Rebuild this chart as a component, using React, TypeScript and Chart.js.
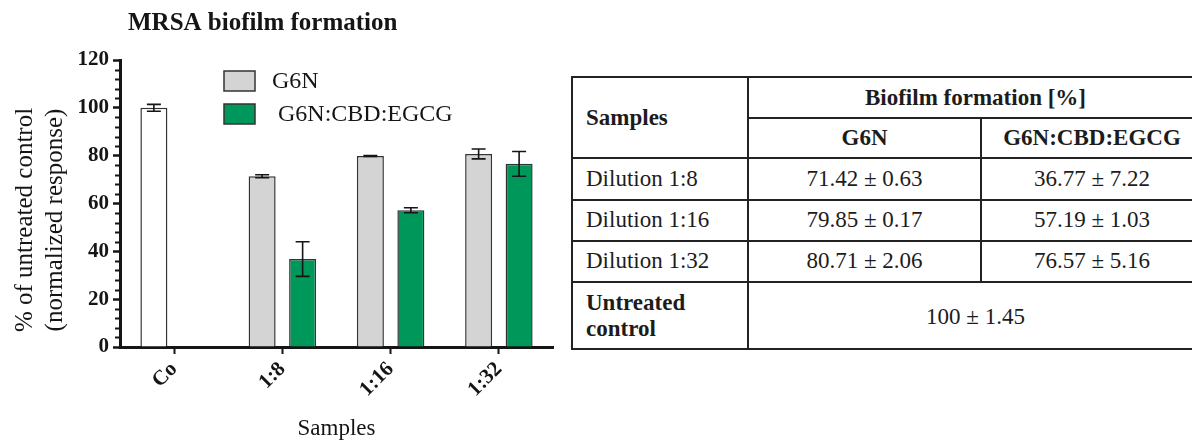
import React, { useEffect, useRef } from 'react';
import { Chart, registerables } from 'chart.js';

Chart.register(...registerables);

// ---------- data ----------
const categories = ['Co', '1:8', '1:16', '1:32'];
const seriesLabels = ['G6N', 'G6N:CBD:EGCG'];
const g6nValues = [100, 71.42, 79.85, 80.71];
const g6nErrors = [1.45, 0.63, 0.17, 2.06];
const comboValues = [null, 36.77, 57.19, 76.57];
const comboErrors = [null, 7.22, 1.03, 5.16];
const yTickValues = [0, 20, 40, 60, 80, 100, 120];
const tableRowLabels = ['Dilution 1:8', 'Dilution 1:16', 'Dilution 1:32'];
const controlValue = 100;
const controlError = 1.45;

const chartTitle = 'MRSA biofilm formation';
const yTitleLines = ['% of untreated control', '(normalized response)'];
const xTitle = 'Samples';
const tableHeader = 'Biofilm formation [%]';

// ---------- styles ----------
const SERIF = '"Liberation Serif", "Times New Roman", serif';
const GRAY = '#d4d4d4';
const GREEN = '#00985a';
const EDGE = '#333333';
const INK = '#151515';

const fmt = (v: number, e: number) => `${v.toFixed(2)} ± ${e.toFixed(2)}`;
const fmtShort = (v: number, e: number) => `${v} ± ${e.toFixed(2)}`;

const errorBarPlugin = {
  id: 'errorBars',
  afterDatasetsDraw(chart: any) {
    const ctx = chart.ctx;
    const y = chart.scales.y;
    chart.data.datasets.forEach((ds: any, di: number) => {
      const meta = chart.getDatasetMeta(di);
      meta.data.forEach((bar: any, i: number) => {
        const v = ds.data[i];
        const e = ds.errors ? ds.errors[i] : null;
        if (v == null || e == null) return;
        const x = bar.x;
        const yTop = y.getPixelForValue(v + e);
        const yBot = y.getPixelForValue(v - e);
        ctx.save();
        ctx.strokeStyle = INK;
        ctx.lineWidth = 1.6;
        ctx.beginPath();
        ctx.moveTo(x, yTop);
        ctx.lineTo(x, yBot);
        ctx.moveTo(x - 7, yTop);
        ctx.lineTo(x + 7, yTop);
        ctx.moveTo(x - 7, yBot);
        ctx.lineTo(x + 7, yBot);
        ctx.stroke();
        ctx.restore();
      });
    });
  },
};

const decorPlugin = {
  id: 'decor',
  afterDraw(chart: any) {
    const { ctx, chartArea } = chart;
    const y = chart.scales.y;
    ctx.save();
    // minor ticks on y axis
    ctx.strokeStyle = INK;
    ctx.lineWidth = 2;
    for (let v = 0; v <= 120; v += 4) {
      if (v % 20 === 0) continue;
      const py = Math.round(y.getPixelForValue(v)) + 0.5;
      ctx.beginPath();
      ctx.moveTo(chartArea.left - 5, py);
      ctx.lineTo(chartArea.left, py);
      ctx.stroke();
    }
    // chart title
    ctx.fillStyle = INK;
    ctx.textBaseline = 'middle';
    ctx.textAlign = 'left';
    ctx.font = `bold 25px ${SERIF}`;
    ctx.fillText(chartTitle, 128, 24);

    // legend
    const legendColors = [GRAY, GREEN];
    const legendY = [71, 104];
    const legendTextX = [272, 272];
    ctx.font = `24px ${SERIF}`;
    seriesLabels.forEach((label, i) => {
      ctx.fillStyle = legendColors[i];
      ctx.fillRect(224, legendY[i], 31, 20);
      ctx.strokeStyle = EDGE;
      ctx.lineWidth = 1.5;
      ctx.strokeRect(224, legendY[i], 31, 20);
      ctx.fillStyle = INK;
      ctx.fillText(i === 1 ? ' ' + label : label, legendTextX[i], legendY[i] + 11);
    });

    // y axis title (two lines, rotated)
    ctx.font = `25px ${SERIF}`;
    ctx.textAlign = 'center';
    ctx.translate(25, 220);
    ctx.rotate(-Math.PI / 2);
    yTitleLines.forEach((line, i) => ctx.fillText(line, 0, i * 30));
    ctx.restore();
  },
};

function ChartBox() {
  const ref = useRef<HTMLCanvasElement | null>(null);
  useEffect(() => {
    if (!ref.current) return;
    const chart = new Chart(ref.current, {
      type: 'bar',
      data: {
        labels: categories,
        datasets: [
          {
            label: seriesLabels[0],
            data: g6nValues,
            errors: g6nErrors,
            backgroundColor: g6nValues.map((_, i) => (i === 0 ? '#ffffff' : GRAY)),
            borderColor: EDGE,
            borderWidth: 1.5,
            categoryPercentage: 0.748,
            barPercentage: 0.667,
          } as any,
          {
            label: seriesLabels[1],
            data: comboValues,
            errors: comboErrors,
            backgroundColor: GREEN,
            borderColor: EDGE,
            borderWidth: 1.5,
            categoryPercentage: 0.748,
            barPercentage: 0.667,
          } as any,
        ],
      },
      options: {
        animation: false,
        responsive: false,
        devicePixelRatio: 1,
        layout: { padding: { top: 60, right: 12, left: 0, bottom: 0 } },
        plugins: {
          legend: { display: false },
          title: { display: false },
          tooltip: { enabled: false },
        },
        scales: {
          x: {
            afterFit: (s: any) => {
              s.height = 96;
            },
            border: { display: true, color: INK, width: 3 },
            grid: {
              display: true,
              drawOnChartArea: false,
              drawTicks: true,
              offset: false,
              tickLength: 7,
              tickWidth: 2,
              tickColor: INK,
            },
            ticks: {
              minRotation: 45,
              maxRotation: 45,
              padding: 3,
              color: INK,
              font: { family: SERIF, size: 21, weight: 'bold' },
            },
            title: {
              display: true,
              text: xTitle,
              color: INK,
              font: { family: SERIF, size: 23 },
              padding: { top: 0, bottom: 0 },
            },
          },
          y: {
            min: 0,
            max: 120,
            afterFit: (s: any) => {
              s.width = 120;
            },
            afterBuildTicks: (s: any) => {
              s.ticks = yTickValues.map((v) => ({ value: v }));
            },
            border: { display: true, color: INK, width: 3 },
            grid: {
              display: true,
              drawOnChartArea: false,
              drawTicks: true,
              tickLength: 7,
              tickWidth: 2.5,
              tickColor: INK,
            },
            ticks: {
              padding: 4,
              color: INK,
              font: { family: SERIF, size: 21, weight: 'bold' },
            },
            title: { display: false },
          },
        },
      },
      plugins: [errorBarPlugin, decorPlugin],
    } as any);
    return () => chart.destroy();
  }, []);
  return (
    <canvas
      ref={ref}
      width={565}
      height={443}
      style={{ position: 'absolute', left: 0, top: 0, width: 565, height: 443 }}
    />
  );
}

function HLine({ x1, x2, y }: { x1: number; x2: number; y: number }) {
  return <div style={{ position: 'absolute', left: x1, top: y - 1, width: x2 - x1, height: 2, background: '#222' }} />;
}
function VLine({ x, y1, y2 }: { x: number; y1: number; y2: number }) {
  return <div style={{ position: 'absolute', left: x - 1, top: y1, width: 2, height: y2 - y1, background: '#222' }} />;
}
function Cell({
  x1,
  x2,
  cy,
  text,
  bold,
  align,
}: {
  x1: number;
  x2: number;
  cy: number;
  text: string;
  bold?: boolean;
  align?: 'left' | 'center';
}) {
  const a = align || 'center';
  return (
    <div
      style={{
        position: 'absolute',
        left: a === 'left' ? x1 + 14 : x1,
        width: a === 'left' ? x2 - x1 - 14 : x2 - x1,
        top: cy - 14,
        height: 28,
        lineHeight: '28px',
        textAlign: a,
        fontFamily: SERIF,
        fontSize: 23,
        fontWeight: bold ? 'bold' : 'normal',
        color: '#1c1c1c',
        whiteSpace: 'nowrap',
      }}
    >
      {text}
    </div>
  );
}

function DataTable() {
  const L = 572;
  const C1 = 748;
  const C2 = 981;
  const R = 1203;
  const rowLines = [158, 200, 241, 282];
  const rowCenters = [179, 220, 261];
  return (
    <>
      <HLine x1={L} x2={R} y={77} />
      <HLine x1={C1} x2={R} y={118} />
      {rowLines.map((y) => (
        <HLine key={y} x1={L} x2={R} y={y} />
      ))}
      <HLine x1={L} x2={R} y={349} />
      <VLine x={L} y1={76} y2={350} />
      <VLine x={C1} y1={76} y2={350} />
      <VLine x={C2} y1={118} y2={282} />
      <VLine x={R} y1={76} y2={350} />

      <Cell x1={L} x2={C1} cy={118} text="Samples" bold align="left" />
      <Cell x1={C1} x2={R} cy={98} text={tableHeader} bold />
      <Cell x1={C1} x2={C2} cy={138} text={seriesLabels[0]} bold />
      <Cell x1={C2} x2={R} cy={138} text={seriesLabels[1]} bold />
      {tableRowLabels.map((lab, i) => (
        <React.Fragment key={lab}>
          <Cell x1={L} x2={C1} cy={rowCenters[i]} text={lab} align="left" />
          <Cell x1={C1} x2={C2} cy={rowCenters[i]} text={fmt(g6nValues[i + 1], g6nErrors[i + 1])} />
          <Cell x1={C2} x2={R} cy={rowCenters[i]} text={fmt(comboValues[i + 1] as number, comboErrors[i + 1] as number)} />
        </React.Fragment>
      ))}
      <Cell x1={L} x2={C1} cy={303} text="Untreated" bold align="left" />
      <Cell x1={L} x2={C1} cy={329} text="control" bold align="left" />
      <Cell x1={C1} x2={R} cy={317} text={fmtShort(controlValue, controlError)} />
    </>
  );
}

export default function App() {
  return (
    <div
      style={{
        position: 'fixed',
        left: 0,
        top: 0,
        width: 1192,
        height: 443,
        overflow: 'hidden',
        background: '#ffffff',
      }}
    >
      <ChartBox />
      <DataTable />
    </div>
  );
}
